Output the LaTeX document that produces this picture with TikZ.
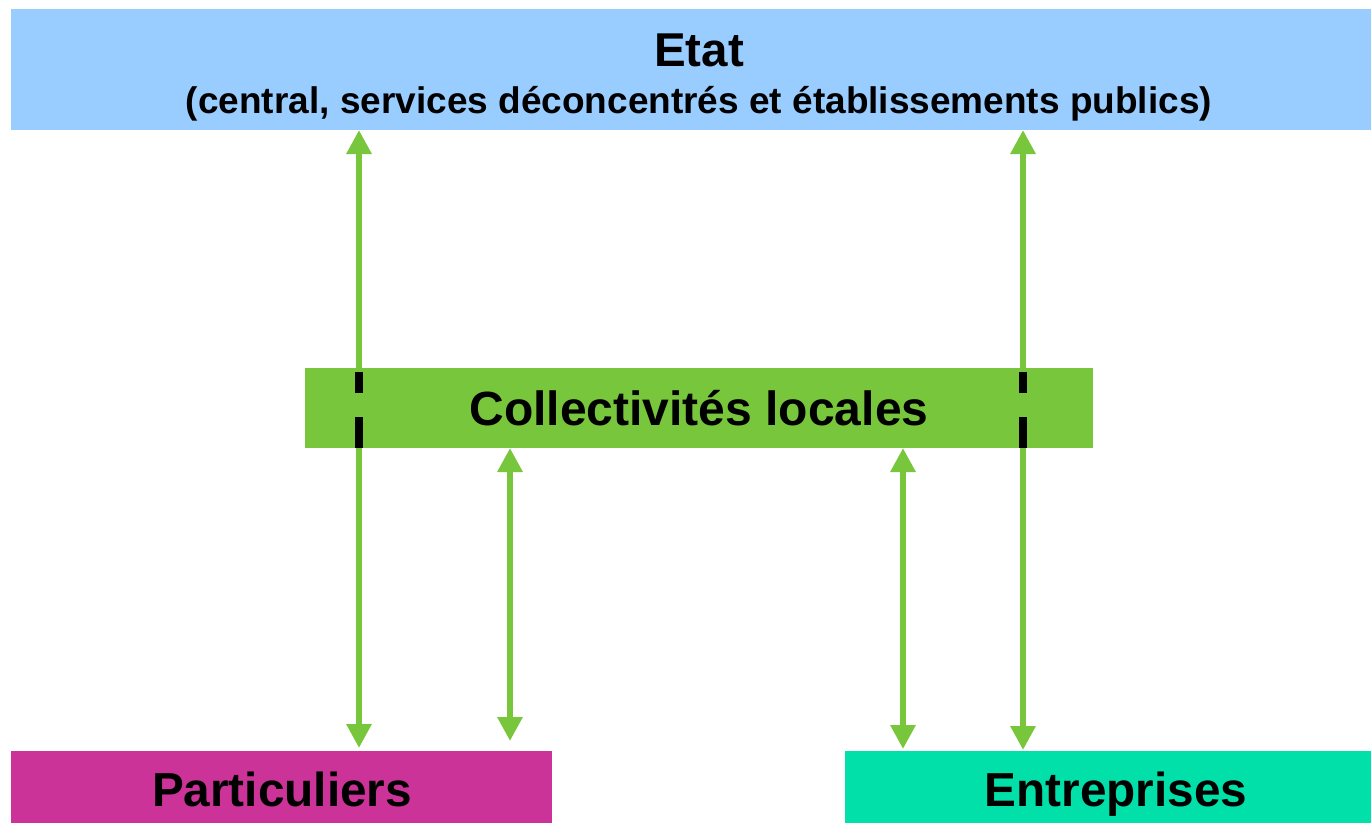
\documentclass[tikz,border=0pt]{standalone}
\usepackage{fontspec}
\setmainfont{Liberation Sans}
\usetikzlibrary{arrows.meta}
\definecolor{etatblue}{RGB}{153,204,255}
\definecolor{collgreen}{RGB}{119,198,59}
\definecolor{partmagenta}{RGB}{204,51,153}
\definecolor{entgreen}{RGB}{0,224,168}
\begin{document}
\begin{tikzpicture}[x=1pt,y=-1pt,
  box/.style={draw=none,inner sep=0pt,outer sep=0pt,anchor=north west},
  lbl/.style={font=\bfseries,text=black,inner sep=0pt},
  link/.style={collgreen,line width=6pt,
    {Triangle[width=24pt,length=24pt]}-{Triangle[width=24pt,length=24pt]}},
  hidden/.style={black,line width=8pt}]
\useasboundingbox (0,0) rectangle (1371,823);
% boxes
\node[box,fill=etatblue,minimum width=1360pt,minimum height=121pt] (etat) at (11,9) {};
\node[box,fill=partmagenta,minimum width=541pt,minimum height=72pt] (part) at (11,751) {};
\node[box,fill=entgreen,minimum width=526pt,minimum height=72pt] (entr) at (845,751) {};
% columns of the links
\coordinate (xa) at (359,0);
\coordinate (xb) at (510,0);
\coordinate (xc) at (903,0);
\coordinate (xd) at (1023,0);
% long links from the state down to households and firms
\draw[link,shorten >=3pt] (etat.south -| xa) -- (part.north -| xa);
\draw[link,shorten >=1pt] (etat.south -| xd) -- (entr.north -| xd);
% local authorities box drawn over the long links
\node[box,fill=collgreen,minimum width=788pt,minimum height=80pt] (coll) at (305,368) {};
\draw[hidden] (359,372) -- (359,393) (359,417) -- (359,448);
\draw[hidden] (1023,372) -- (1023,393) (1023,417) -- (1023,448);
% short links from local authorities
\draw[link,shorten >=10pt] (coll.south -| xb) -- (part.north -| xb);
\draw[link,shorten >=2pt] (coll.south -| xc) -- (entr.north -| xc);
% labels
\node[lbl,font=\bfseries\fontsize{47.5}{54}\selectfont,anchor=base] (etatT) at (699,66) {Etat};
\node[lbl,font=\bfseries\fontsize{37}{42}\selectfont,anchor=base] (etatS) at (699,113) {(central, services déconcentrés et établissements publics)};
\node[lbl,font=\bfseries\fontsize{48}{54}\selectfont,anchor=base] (collT) at (699,425) {Collectivités locales};
\node[lbl,font=\bfseries\fontsize{47.7}{54}\selectfont,anchor=base] (partT) at (282,806) {Particuliers};
\node[lbl,font=\bfseries\fontsize{47.7}{54}\selectfont,anchor=base] (entrT) at (1116,806) {Entreprises};
\end{tikzpicture}
\end{document}
